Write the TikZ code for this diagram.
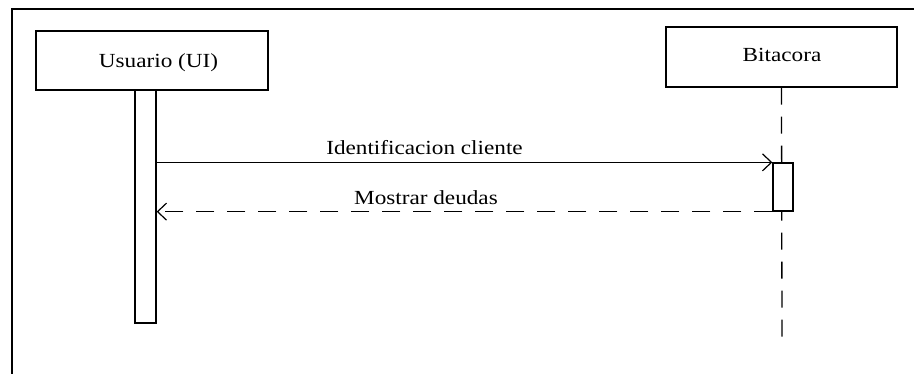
\documentclass[tikz,border=0pt]{standalone}
\usepackage{fontspec}
\setmainfont{Liberation Serif}[FakeStretch=1.16]
\usetikzlibrary{arrows.meta}
\begin{document}
\begin{tikzpicture}[x=1pt,y=-1pt,
  box/.style={draw, line width=1.3pt, inner sep=0pt, rectangle},
  lbl/.style={font=\fontsize{20}{22}\selectfont, anchor=base, inner sep=0pt},
  msg/.style={line width=1.3pt, -{Straight Barb[length=9pt,width=17pt,line width=1.2pt]}},
  reply/.style={msg, dash pattern=on 18pt off 13pt},
  lifeline/.style={line width=1.3pt, dash pattern=on 17pt off 12pt}]
  \useasboundingbox (0,0) rectangle (914,374);
  % diagram frame (open to the right and bottom)
  \draw[line width=1.8pt] (12,374) -- (12,9) -- (914,9);

  % participants
  \node[box, minimum width=232pt, minimum height=59pt] (user) at (152,60.5) {};
  \node[lbl] (userlbl) at (158.5,68) {Usuario (UI)};
  \node[box, minimum width=231pt, minimum height=60pt] (log) at (781.5,57) {};
  \node[lbl] (loglbl) at (782,62) {Bitacora};

  % lifelines and activations
  \node[box, fill=white, minimum width=21pt, minimum height=233pt] (uact) at (145.5,206.5) {};
  \coordinate (logend) at (782,338);
  \draw[lifeline] (log.south) -- (logend);
  \node[box, fill=white, minimum width=20pt, minimum height=48pt] (lact) at (783,187) {};

  % messages
  \draw[msg] (uact.east |- lact.north west) -- (lact.north west);
  \node[lbl] (m1) at (424.5,155) {Identificacion cliente};
  \draw[reply] (lact.south west) -- (uact.east |- lact.south west);
  \node[lbl] (m2) at (426,205) {Mostrar deudas};
\end{tikzpicture}
\end{document}
